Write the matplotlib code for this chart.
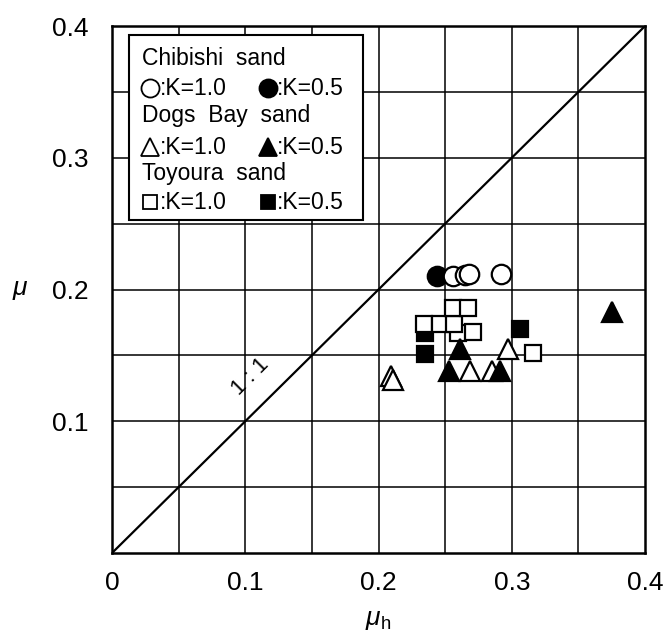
#!/usr/bin/env python3
"""
Friction coefficient mu vs mu_h for three sands at two K values.
"""

import matplotlib
matplotlib.use("Agg")
import matplotlib.pyplot as plt
from matplotlib.patches import Rectangle
import numpy as np

plt.rcParams["font.family"] = ["Liberation Sans", "DejaVu Sans"]
plt.rcParams["mathtext.fontset"] = "custom"
plt.rcParams["mathtext.rm"] = "Liberation Sans"
plt.rcParams["mathtext.it"] = "Liberation Sans:italic"

# Chibishi sand
chibishi_k10_muh = [0.256, 0.265, 0.268, 0.292]
chibishi_k10_mu = [0.210, 0.211, 0.212, 0.212]
chibishi_k05_muh = [0.244]
chibishi_k05_mu = [0.210]

# Dogs Bay sand
dogs_k10_muh = [0.209, 0.211, 0.269, 0.285, 0.297]
dogs_k10_mu = [0.134, 0.131, 0.138, 0.138, 0.155]
dogs_k05_muh = [0.253, 0.261, 0.291, 0.375]
dogs_k05_mu = [0.138, 0.155, 0.138, 0.183]

# Toyoura sand
toyoura_k10_muh = [0.260, 0.234, 0.246, 0.257, 0.256, 0.267, 0.271, 0.316]
toyoura_k10_mu = [0.167, 0.174, 0.174, 0.174, 0.186, 0.186, 0.168, 0.152]
toyoura_k05_muh = [0.235, 0.235, 0.306]
toyoura_k05_mu = [0.167, 0.151, 0.170]

TICKS_X = [0, 0.1, 0.2, 0.3, 0.4]
TICKS_Y = [0.1, 0.2, 0.3, 0.4]

LABEL_FS = 19
LEGEND_FS = 16.5
MS = {"o": 14, "s": 11.5, "^": 14}

fig = plt.figure(figsize=(6.71, 6.35), dpi=100)
ax = fig.add_axes([0.1669, 0.1291, 0.7944, 0.8299])
ax.set_xlim(0, 0.4)
ax.set_ylim(0, 0.4)

# grid every 0.05
for g in np.arange(0.05, 0.4, 0.05):
    ax.axvline(g, color="black", lw=1.1, zorder=1)
    ax.axhline(g, color="black", lw=1.1, zorder=1)

ax.plot([0, 0.4], [0, 0.4], color="black", lw=1.6, zorder=2)
ax.text(0.104, 0.134, "1 : 1", rotation=45, ha="center", va="center",
        fontsize=16, zorder=2)

common = dict(linestyle="none", markeredgecolor="black", markeredgewidth=1.6, zorder=3)
ax.plot(toyoura_k05_muh, toyoura_k05_mu, marker="s", ms=MS["s"], markerfacecolor="black", **common)
ax.plot(toyoura_k10_muh, toyoura_k10_mu, marker="s", ms=MS["s"], markerfacecolor="white", **common)
ax.plot(dogs_k10_muh, dogs_k10_mu, marker="^", ms=MS["^"], markerfacecolor="white", **common)
ax.plot(dogs_k05_muh, dogs_k05_mu, marker="^", ms=MS["^"], markerfacecolor="black", **common)
ax.plot(chibishi_k05_muh, chibishi_k05_mu, marker="o", ms=MS["o"], markerfacecolor="black", **common)
ax.plot(chibishi_k10_muh, chibishi_k10_mu, marker="o", ms=MS["o"], markerfacecolor="white", **common)

ax.set_xticks(TICKS_X)
ax.set_xticklabels(["0", "0.1", "0.2", "0.3", "0.4"])
ax.set_yticks(TICKS_Y)
ax.set_yticklabels(["0.1", "0.2", "0.3", "0.4"])
ax.tick_params(axis="both", length=0, labelsize=LABEL_FS)
ax.tick_params(axis="x", pad=13)
ax.tick_params(axis="y", pad=17)
for s in ax.spines.values():
    s.set_linewidth(1.8)

ax.set_ylabel(r"$\mu$", rotation=0, fontsize=LABEL_FS, va="center", ha="center")
ax.yaxis.set_label_coords(-0.172, 0.5)
ax.set_xlabel(r"$\mu_\mathrm{h}$", fontsize=LABEL_FS, va="center")
ax.xaxis.set_label_coords(0.5, -0.127)

# legend box drawn by hand
ax.add_patch(Rectangle((0.032, 0.632), 0.439, 0.351, transform=ax.transAxes,
                       facecolor="white", edgecolor="black", lw=1.5, zorder=5))
title_y = [0.939, 0.831, 0.721]
titles = ["Chibishi  sand", "Dogs  Bay  sand", "Toyoura  sand"]
marks = ["o", "^", "s"]
mark_y = [0.882, 0.770, 0.666]
for t, y in zip(titles, title_y):
    ax.text(0.056, y, t, transform=ax.transAxes, fontsize=LEGEND_FS,
            ha="left", va="center", zorder=6)
for m, y in zip(marks, mark_y):
    for x0, face, lab in [(0.071, "white", ":K=1.0"), (0.292, "black", ":K=0.5")]:
        ax.plot([x0], [y], marker=m, ms=MS[m] - 1, transform=ax.transAxes,
                markerfacecolor=face, markeredgecolor="black", markeredgewidth=1.3,
                linestyle="none", clip_on=False, zorder=6)
        ax.text(x0 + 0.018, y, lab, transform=ax.transAxes, fontsize=LEGEND_FS,
                ha="left", va="center", zorder=6)

fig.savefig("out.png", dpi=100)
